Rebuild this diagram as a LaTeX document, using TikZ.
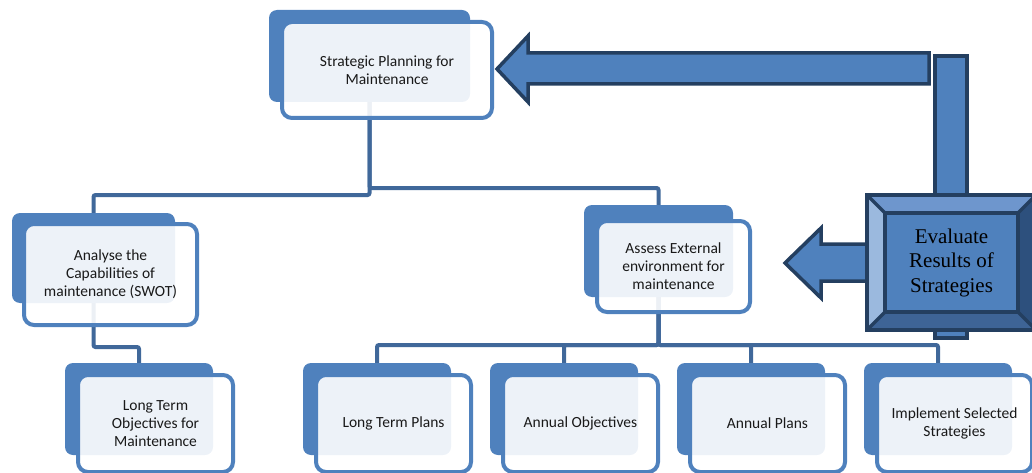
\documentclass[tikz,border=0pt]{standalone}
\usepackage{fontspec}
\setmainfont{Carlito}
\newfontfamily\evalfont{Liberation Serif}
\usetikzlibrary{backgrounds}

\definecolor{accent}{HTML}{4F81BD}
\definecolor{linkblue}{RGB}{64,104,154}
\definecolor{navy}{HTML}{243F60}
\definecolor{bevtop}{RGB}{110,150,205}
\definecolor{bevleft}{RGB}{155,185,222}
\definecolor{bevbottom}{RGB}{62,100,150}
\definecolor{bevright}{RGB}{45,80,125}
\definecolor{inktext}{RGB}{25,25,25}

\tikzset{
  backbox/.style={fill=accent, rounded corners=8pt, inner sep=0pt},
  frontbox/.style={draw=accent, line width=4pt, fill=white, fill opacity=0.9,
    text opacity=1, rounded corners=10pt, inner sep=0pt, align=center,
    font=\fontsize{15.5}{18}\selectfont, text=inktext},
  link/.style={draw=linkblue, line width=4pt, rounded corners=2pt},
  blockarrow/.style={fill=accent, draw=navy, line width=3.5pt, line join=miter},
  bevelface/.style={draw=navy, line width=3.5pt, line join=miter},
}

\begin{document}
\begin{tikzpicture}[x=1pt, y=-1pt]
\useasboundingbox (0,0) rectangle (1032,473);

% ---- hierarchy boxes: solid back tile + translucent front card ----
\node[backbox, minimum width=201pt, minimum height=92pt] (topb) at (369.5,56) {};
\node[frontbox, minimum width=210pt, minimum height=96pt] (topf) at (387,70)
  {Strategic Planning for\\Maintenance};

\node[backbox, minimum width=163pt, minimum height=90pt] (anab) at (93.5,258) {};
\node[frontbox, minimum width=173pt, minimum height=101pt] (anaf) at (110.5,274.5)
  {Analyse the\\Capabilities of\\maintenance (SWOT)};

\node[backbox, minimum width=149pt, minimum height=92pt] (assb) at (658.5,251) {};
\node[frontbox, minimum width=153pt, minimum height=91pt] (assf) at (673.5,266.5)
  {Assess External\\environment for\\maintenance};

% bottom row
\foreach \nm/\bx/\txt in {lto/139/{Long Term\\Objectives for\\Maintenance},
                          ltp/377/{Long Term Plans},
                          ao/564/{Annual Objectives},
                          ap/751/{Annual Plans},
                          iss/938/{Implement Selected\\Strategies}}{
  \node[backbox, minimum width=148pt, minimum height=92pt] (\nm b) at (\bx,409) {};
  \node[frontbox, minimum width=155pt, minimum height=97pt] (\nm f) at (\bx+16.5,423.5) {\txt};
}

% ---- elbow connectors behind the boxes ----
\coordinate (lvlA) at (0,195);
\coordinate (lvlB) at (0,188);
\coordinate (lvlC) at (0,347);
\coordinate (lvlD) at (0,345);
\begin{scope}[on background layer]
  \draw[link] (topb.south) -- (topb.south |- lvlA) -| (anab.north);
  \draw[link] (topb.south) -- (topb.south |- lvlB) -| (assb.north);
  \draw[link] (anab.south) -- (anab.south |- lvlC) -| (ltob.north);
  \foreach \nm in {ltp,ao,ap,iss}{
    \draw[link] (assb.south) -- (assb.south |- lvlD) -| (\nm b.north);
  }
\end{scope}

% ---- feedback arrows ----
% long arrow back to the planning box
\draw[blockarrow] (497,69) -- (528,36) -- (528,53) -- (929,53) -- (929,84)
  -- (528,84) -- (528,102) -- cycle;
% vertical bar behind the evaluation block
\draw[blockarrow] (935,56) rectangle (967,338);
% short arrow pointing to the assessment box
\draw[blockarrow] (785,263) -- (821,228) -- (821,244) -- (867,244) -- (867,281)
  -- (821,281) -- (821,298) -- cycle;

% ---- bevelled evaluation block ----
\coordinate (oNW) at (867,195);
\coordinate (oNE) at (1036,195);
\coordinate (oSE) at (1036,330);
\coordinate (oSW) at (867,330);
\coordinate (iNW) at (885,213);
\coordinate (iNE) at (1018,213);
\coordinate (iSE) at (1018,312);
\coordinate (iSW) at (885,312);
\fill[bevtop]    (oNW) -- (oNE) -- (iNE) -- (iNW) -- cycle;
\fill[bevright]  (oNE) -- (oSE) -- (iSE) -- (iNE) -- cycle;
\fill[bevbottom] (oSE) -- (oSW) -- (iSW) -- (iSE) -- cycle;
\fill[bevleft]   (oSW) -- (oNW) -- (iNW) -- (iSW) -- cycle;
\draw[bevelface] (oNW) -- (iNW) (oNE) -- (iNE) (oSE) -- (iSE) (oSW) -- (iSW);
\draw[bevelface] (oNW) rectangle (oSE);
\node[fill=accent, draw=navy, line width=3.5pt, inner sep=0pt,
      minimum width=133pt, minimum height=99pt, align=center,
      font=\evalfont\fontsize{21}{24.5}\selectfont, text=black]
  (evalf) at (951.5,262.5) {Evaluate\\Results of\\Strategies};
\end{tikzpicture}
\end{document}
